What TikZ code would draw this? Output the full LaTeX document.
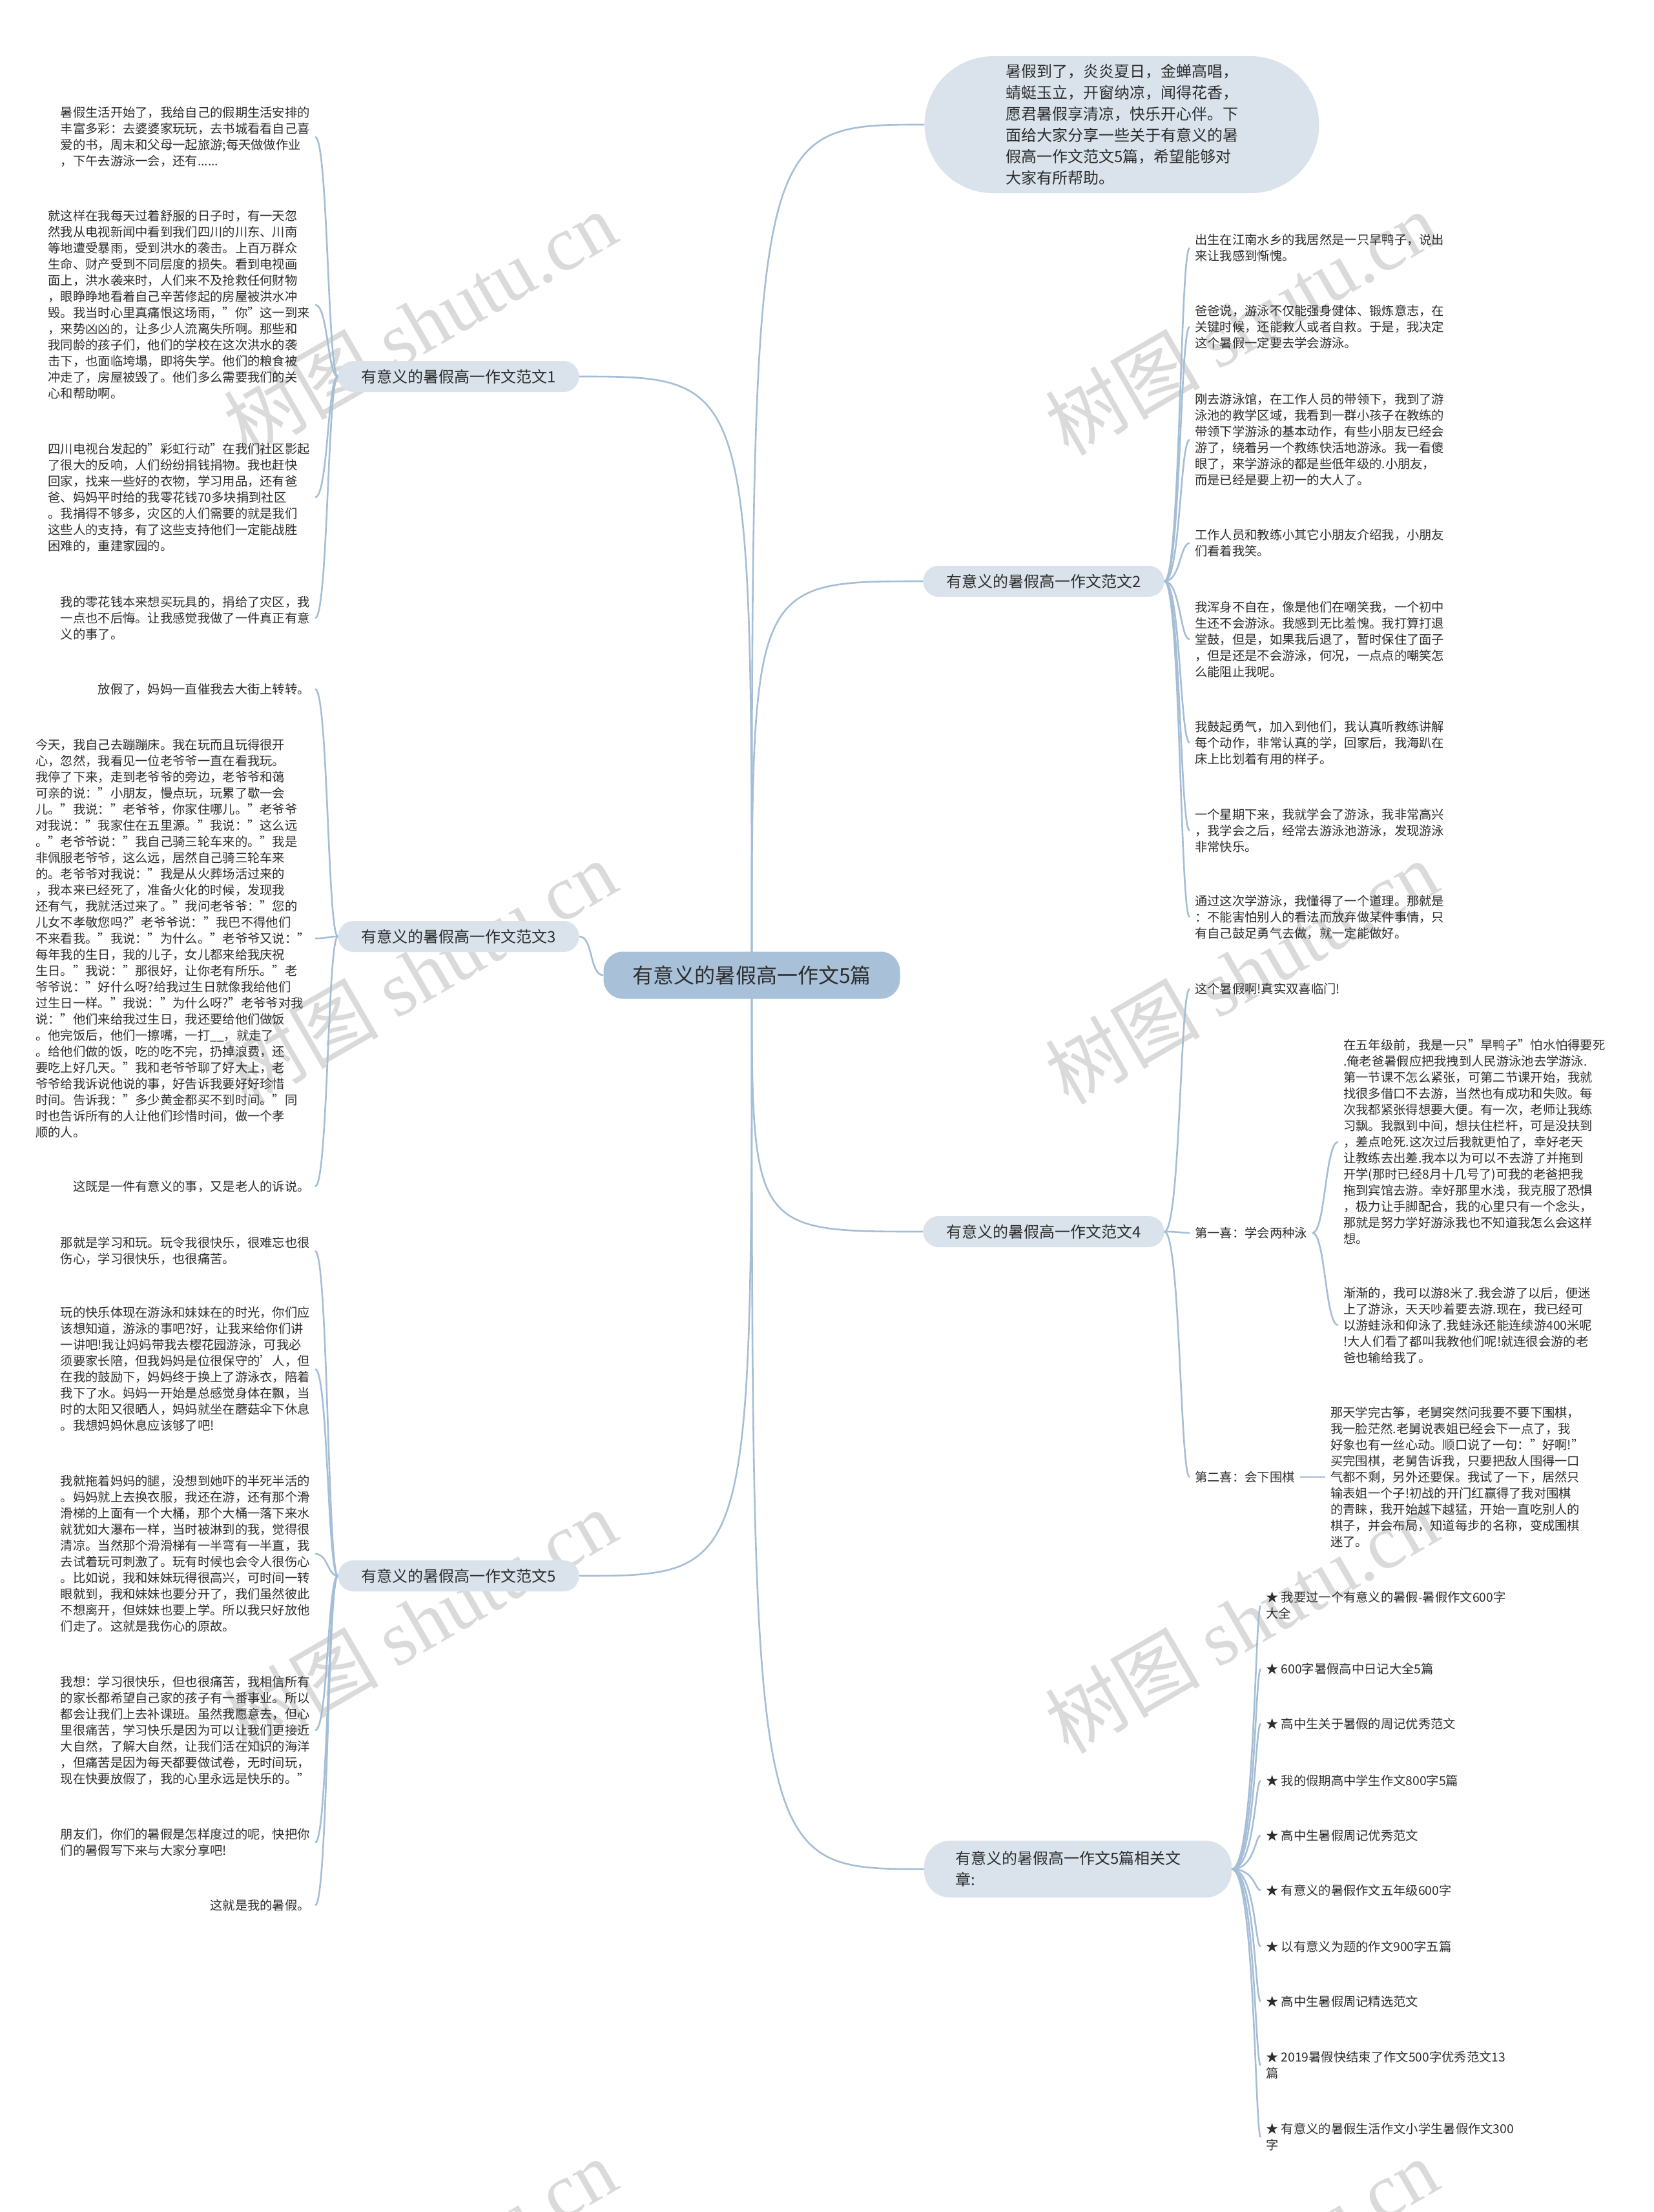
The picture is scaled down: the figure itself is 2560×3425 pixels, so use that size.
\documentclass[tikz,border=0pt]{standalone}
\usepackage{fontspec}
\setmainfont{Noto Sans CJK SC}
\newfontfamily\wmserif{Liberation Serif}
\definecolor{lnc}{RGB}{165,190,214}
\definecolor{rootfill}{RGB}{168,192,216}
\definecolor{brfill}{RGB}{218,227,236}
\definecolor{txt}{RGB}{45,45,45}
\definecolor{wm}{RGB}{218,218,218}
\begin{document}
\begin{tikzpicture}[x=1pt,y=-1pt,
  leaf/.style={font=\fontsize{19.3}{25}\selectfont, align=left, inner xsep=8pt, inner ysep=2pt, text=txt},
  branch/.style={fill=brfill, rounded corners=24pt, font=\fontsize{24}{30}\selectfont, inner xsep=36pt, inner ysep=0pt, minimum height=48pt, text=txt},
  conn/.style={draw=lnc, line width=2.6pt},
  wmark/.style={text=wm, font=\fontsize{120}{130}\selectfont, rotate=30, inner sep=0pt}]
\useasboundingbox (0,0) rectangle (2560,3425);
\fill[white] (0,0) rectangle (2560,3425);

% watermarks
\node[wmark] (wm1) at (650,500) {树图 {\wmserif shutu.cn}};
\node[wmark] (wm2) at (650,1505) {树图 {\wmserif shutu.cn}};
\node[wmark] (wm3) at (650,2510) {树图 {\wmserif shutu.cn}};
\node[wmark] (wm4) at (650,3515) {树图 {\wmserif shutu.cn}};
\node[wmark] (wm5) at (1922,500) {树图 {\wmserif shutu.cn}};
\node[wmark] (wm6) at (1922,1505) {树图 {\wmserif shutu.cn}};
\node[wmark] (wm7) at (1922,2510) {树图 {\wmserif shutu.cn}};
\node[wmark] (wm8) at (1922,3515) {树图 {\wmserif shutu.cn}};

% main curves (drawn first, covered by nodes)
\coordinate (rc) at (1164,1510);
\node[branch] (b1) at (710,583) {有意义的暑假高一作文范文1};
\node[branch] (b3) at (710,1450) {有意义的暑假高一作文范文3};
\node[branch] (b5) at (710,2440) {有意义的暑假高一作文范文5};
\node[branch] (b2) at (1616,900) {有意义的暑假高一作文范文2};
\node[branch] (b4) at (1616,1907) {有意义的暑假高一作文范文4};
\node[branch, rounded corners=40pt, text width=380pt, inner xsep=48pt, align=left, minimum height=88pt, font=\fontsize{24}{33}\selectfont] (b6) at (1669,2894) {有意义的暑假高一作文5篇相关文\\章:};
\node[fill=brfill, rounded corners=106pt, minimum width=611pt, minimum height=212pt, align=left, text=txt, font=\fontsize{24}{33}\selectfont] (intro) at (1737,193) {暑假到了，炎炎夏日，金蝉高唱，\\蜻蜓玉立，开窗纳凉，闻得花香，\\愿君暑假享清凉，快乐开心伴。下\\面给大家分享一些关于有意义的暑\\假高一作文范文5篇，希望能够对\\大家有所帮助。};

\begin{scope}[on background layer/.style={}]
\draw[conn] (rc) .. controls (1164,583) .. (b1.east);
\draw[conn] (rc) .. controls (1164,2440) .. (b5.east);
\draw[conn] (rc) .. controls (1164,193) .. (intro.west);
\draw[conn] (rc) .. controls (1164,900) .. (b2.west);
\draw[conn] (rc) .. controls (1164,1907) .. (b4.west);
\draw[conn] (rc) .. controls (1164,2894) .. (b6.west);
\end{scope}

\node[fill=rootfill, rounded corners=30pt, minimum width=459pt, minimum height=73pt, text=txt, font=\fontsize{32}{38}\selectfont] (root) at (1164,1510) {有意义的暑假高一作文5篇};
\draw[conn] (root.west) .. controls +(-22,0) and +(22,0) .. (b3.east);

% ---------- branch 1 leaves ----------
\node[leaf, anchor=east] (l1a) at (488,212) {暑假生活开始了，我给自己的假期生活安排的\\丰富多彩：去婆婆家玩玩，去书城看看自己喜\\爱的书，周末和父母一起旅游;每天做做作业\\，下午去游泳一会，还有......};
\node[leaf, anchor=east] (l1b) at (488,472) {就这样在我每天过着舒服的日子时，有一天忽\\然我从电视新闻中看到我们四川的川东、川南\\等地遭受暴雨，受到洪水的袭击。上百万群众\\生命、财产受到不同层度的损失。看到电视画\\面上，洪水袭来时，人们来不及抢救任何财物\\，眼睁睁地看着自己辛苦修起的房屋被洪水冲\\毁。我当时心里真痛恨这场雨，"你"这一到来\\，来势凶凶的，让多少人流离失所啊。那些和\\我同龄的孩子们，他们的学校在这次洪水的袭\\击下，也面临垮塌，即将失学。他们的粮食被\\冲走了，房屋被毁了。他们多么需要我们的关\\心和帮助啊。};
\node[leaf, anchor=east] (l1c) at (488,770) {四川电视台发起的"彩虹行动"在我们社区影起\\了很大的反响，人们纷纷捐钱捐物。我也赶快\\回家，找来一些好的衣物，学习用品，还有爸\\爸、妈妈平时给的我零花钱70多块捐到社区\\。我捐得不够多，灾区的人们需要的就是我们\\这些人的支持，有了这些支持他们一定能战胜\\困难的，重建家园的。};
\node[leaf, anchor=east] (l1d) at (488,957) {我的零花钱本来想买玩具的，捐给了灾区，我\\一点也不后悔。让我感觉我做了一件真正有意\\义的事了。};
\foreach \c in {l1a,l1b,l1c,l1d} \draw[conn] (b1.west) .. controls +(-16,0) and +(20,0) .. (\c.east);

% ---------- branch 3 leaves ----------
\node[leaf, anchor=east] (l3a) at (488,1067) {放假了，妈妈一直催我去大街上转转。};
\node[leaf, anchor=east] (l3b) at (488,1453) {今天，我自己去蹦蹦床。我在玩而且玩得很开\\心，忽然，我看见一位老爷爷一直在看我玩。\\我停了下来，走到老爷爷的旁边，老爷爷和蔼\\可亲的说："小朋友，慢点玩，玩累了歇一会\\儿。"我说："老爷爷，你家住哪儿。"老爷爷\\对我说："我家住在五里源。"我说："这么远\\。"老爷爷说："我自己骑三轮车来的。"我是\\非佩服老爷爷，这么远，居然自己骑三轮车来\\的。老爷爷对我说："我是从火葬场活过来的\\，我本来已经死了，准备火化的时候，发现我\\还有气，我就活过来了。"我问老爷爷："您的\\儿女不孝敬您吗?"老爷爷说："我巴不得他们\\不来看我。"我说："为什么。"老爷爷又说："\\每年我的生日，我的儿子，女儿都来给我庆祝\\生日。"我说："那很好，让你老有所乐。"老\\爷爷说："好什么呀?给我过生日就像我给他们\\过生日一样。"我说："为什么呀?"老爷爷对我\\说："他们来给我过生日，我还要给他们做饭\\。他完饭后，他们一擦嘴，一打\_\_，就走了\\。给他们做的饭，吃的吃不完，扔掉浪费，还\\要吃上好几天。"我和老爷爷聊了好大上，老\\爷爷给我诉说他说的事，好告诉我要好好珍惜\\时间。告诉我："多少黄金都买不到时间。"同\\时也告诉所有的人让他们珍惜时间，做一个孝\\顺的人。};
\node[leaf, anchor=east] (l3c) at (488,1837) {这既是一件有意义的事，又是老人的诉说。};
\foreach \c in {l3a,l3b,l3c} \draw[conn] (b3.west) .. controls +(-16,0) and +(20,0) .. (\c.east);

% ---------- branch 5 leaves ----------
\node[leaf, anchor=east] (l5a) at (488,1937) {那就是学习和玩。玩令我很快乐，很难忘也很\\伤心，学习很快乐，也很痛苦。};
\node[leaf, anchor=east] (l5b) at (488,2120) {玩的快乐体现在游泳和妹妹在的时光，你们应\\该想知道，游泳的事吧?好，让我来给你们讲\\一讲吧!我让妈妈带我去樱花园游泳，可我必\\须要家长陪，但我妈妈是位很保守的'人，但\\在我的鼓励下，妈妈终于换上了游泳衣，陪着\\我下了水。妈妈一开始是总感觉身体在飘，当\\时的太阳又很晒人，妈妈就坐在蘑菇伞下休息\\。我想妈妈休息应该够了吧!};
\node[leaf, anchor=east] (l5c) at (488,2406) {我就拖着妈妈的腿，没想到她吓的半死半活的\\。妈妈就上去换衣服，我还在游，还有那个滑\\滑梯的上面有一个大桶，那个大桶一落下来水\\就犹如大瀑布一样，当时被淋到的我，觉得很\\清凉。当然那个滑滑梯有一半弯有一半直，我\\去试着玩可刺激了。玩有时候也会令人很伤心\\。比如说，我和妹妹玩得很高兴，可时间一转\\眼就到，我和妹妹也要分开了，我们虽然彼此\\不想离开，但妹妹也要上学。所以我只好放他\\们走了。这就是我伤心的原故。};
\node[leaf, anchor=east] (l5d) at (488,2679) {我想：学习很快乐，但也很痛苦，我相信所有\\的家长都希望自己家的孩子有一番事业。所以\\都会让我们上去补课班。虽然我愿意去，但心\\里很痛苦，学习快乐是因为可以让我们更接近\\大自然，了解大自然，让我们活在知识的海洋\\，但痛苦是因为每天都要做试卷，无时间玩，\\现在快要放假了，我的心里永远是快乐的。"};
\node[leaf, anchor=east] (l5e) at (488,2853) {朋友们，你们的暑假是怎样度过的呢，快把你\\们的暑假写下来与大家分享吧!};
\node[leaf, anchor=east] (l5f) at (488,2950) {这就是我的暑假。};
\foreach \c in {l5a,l5b,l5c,l5d,l5e,l5f} \draw[conn] (b5.west) .. controls +(-16,0) and +(20,0) .. (\c.east);

% ---------- branch 2 leaves ----------
\node[leaf, anchor=west] (r2a) at (1842,384) {出生在江南水乡的我居然是一只旱鸭子，说出\\来让我感到惭愧。};
\node[leaf, anchor=west] (r2b) at (1842,506) {爸爸说，游泳不仅能强身健体、锻炼意志，在\\关键时候，还能救人或者自救。于是，我决定\\这个暑假一定要去学会游泳。};
\node[leaf, anchor=west] (r2c) at (1842,681) {刚去游泳馆，在工作人员的带领下，我到了游\\泳池的教学区域，我看到一群小孩子在教练的\\带领下学游泳的基本动作，有些小朋友已经会\\游了，绕着另一个教练快活地游泳。我一看傻\\眼了，来学游泳的都是些低年级的.小朋友，\\而是已经是要上初一的大人了。};
\node[leaf, anchor=west] (r2d) at (1842,841) {工作人员和教练小其它小朋友介绍我，小朋友\\们看着我笑。};
\node[leaf, anchor=west] (r2e) at (1842,990) {我浑身不自在，像是他们在嘲笑我，一个初中\\生还不会游泳。我感到无比羞愧。我打算打退\\堂鼓，但是，如果我后退了，暂时保住了面子\\，但是还是不会游泳，何况，一点点的嘲笑怎\\么能阻止我呢。};
\node[leaf, anchor=west] (r2f) at (1842,1150) {我鼓起勇气，加入到他们，我认真听教练讲解\\每个动作，非常认真的学，回家后，我海趴在\\床上比划着有用的样子。};
\node[leaf, anchor=west] (r2g) at (1842,1286) {一个星期下来，我就学会了游泳，我非常高兴\\，我学会之后，经常去游泳池游泳，发现游泳\\非常快乐。};
\node[leaf, anchor=west] (r2h) at (1842,1420) {通过这次学游泳，我懂得了一个道理。那就是\\：不能害怕别人的看法而放弃做某件事情，只\\有自己鼓足勇气去做，就一定能做好。};
\foreach \c in {r2a,r2b,r2c,r2d,r2e,r2f,r2g,r2h} \draw[conn] (b2.east) .. controls +(25,0) and +(-15,0) .. (\c.west);

% ---------- branch 4 leaves ----------
\node[leaf, anchor=west] (r4a) at (1842,1531) {这个暑假啊!真实双喜临门!};
\node[leaf, anchor=west] (r4b) at (1842,1909) {第一喜：学会两种泳};
\node[leaf, anchor=west] (r4c) at (1842,2287) {第二喜：会下围棋};
\foreach \c in {r4a,r4b,r4c} \draw[conn] (b4.east) .. controls +(25,0) and +(-15,0) .. (\c.west);
\node[leaf, anchor=west] (r4b1) at (2072,1768) {在五年级前，我是一只"旱鸭子"怕水怕得要死\\.俺老爸暑假应把我拽到人民游泳池去学游泳.\\第一节课不怎么紧张，可第二节课开始，我就\\找很多借口不去游，当然也有成功和失败。每\\次我都紧张得想要大便。有一次，老师让我练\\习飘。我飘到中间，想扶住栏杆，可是没扶到\\，差点呛死.这次过后我就更怕了，幸好老天\\让教练去出差.我本以为可以不去游了并拖到\\开学(那时已经8月十几号了)可我的老爸把我\\拖到宾馆去游。幸好那里水浅，我克服了恐惧\\，极力让手脚配合，我的心里只有一个念头，\\那就是努力学好游泳我也不知道我怎么会这样\\想。};
\node[leaf, anchor=west] (r4b2) at (2072,2052) {渐渐的，我可以游8米了.我会游了以后，便迷\\上了游泳，天天吵着要去游.现在，我已经可\\以游蛙泳和仰泳了.我蛙泳还能连续游400米呢\\!大人们看了都叫我教他们呢!就连很会游的老\\爸也输给我了。};
\foreach \c in {r4b1,r4b2} \draw[conn] (r4b.east) .. controls +(20,0) and +(-20,0) .. (\c.west);
\node[leaf, anchor=west] (r4c1) at (2052,2287) {那天学完古筝，老舅突然问我要不要下围棋，\\我一脸茫然.老舅说表姐已经会下一点了，我\\好象也有一丝心动。顺口说了一句："好啊!"\\买完围棋，老舅告诉我，只要把敌人围得一口\\气都不剩，另外还要保。我试了一下，居然只\\输表姐一个子!初战的开门红赢得了我对围棋\\的青睐，我开始越下越猛，开始一直吃别人的\\棋子，并会布局，知道每步的名称，变成围棋\\迷了。};
\draw[conn] (r4c.east) -- (r4c1.west);

% ---------- related articles ----------
\node[leaf, anchor=west] (k1) at (1952,2486) {★ 我要过一个有意义的暑假-暑假作文600字\\大全};
\node[leaf, anchor=west] (k2) at (1952,2584) {★ 600字暑假高中日记大全5篇};
\node[leaf, anchor=west] (k3) at (1952,2669) {★ 高中生关于暑假的周记优秀范文};
\node[leaf, anchor=west] (k4) at (1952,2757) {★ 我的假期高中学生作文800字5篇};
\node[leaf, anchor=west] (k5) at (1952,2842) {★ 高中生暑假周记优秀范文};
\node[leaf, anchor=west] (k6) at (1952,2927) {★ 有意义的暑假作文五年级600字};
\node[leaf, anchor=west] (k7) at (1952,3014) {★ 以有意义为题的作文900字五篇};
\node[leaf, anchor=west] (k8) at (1952,3099) {★ 高中生暑假周记精选范文};
\node[leaf, anchor=west] (k9) at (1952,3198) {★ 2019暑假快结束了作文500字优秀范文13\\篇};
\node[leaf, anchor=west] (k10) at (1952,3309) {★ 有意义的暑假生活作文小学生暑假作文300\\字};
\foreach \c in {k1,k2,k3,k4,k5,k6,k7,k8,k9,k10} \draw[conn] (b6.east) .. controls +(36,0) and +(-9,0) .. (\c.west);
\end{tikzpicture}
\end{document}
